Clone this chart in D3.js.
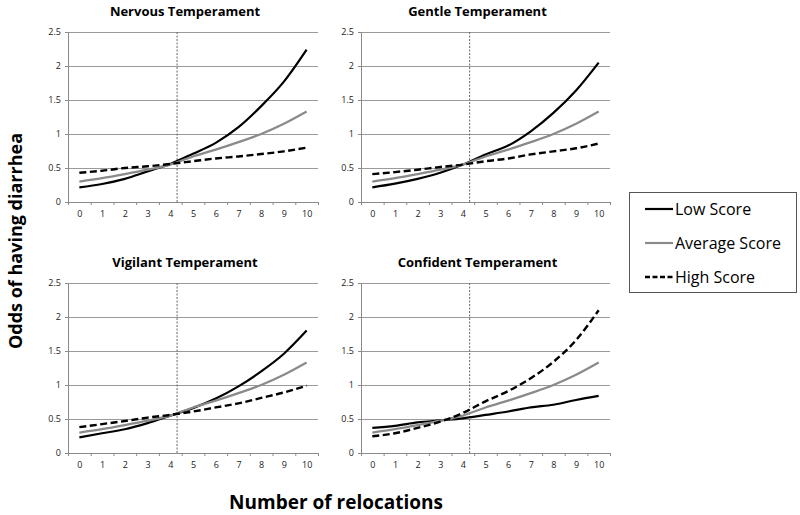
<!DOCTYPE html>
<html>
<head>
<meta charset="utf-8">
<script src="https://cdn.jsdelivr.net/npm/d3@7"></script>
<style>
  body { margin: 0; background: #fff; }
  svg { display: block; }
  text { font-family: "Open Sans", "Noto Sans", sans-serif; }
</style>
</head>
<body>
<svg id="chart" width="800" height="515"></svg>
<script>
// ---- data ----
const relocations = [0, 1, 2, 3, 4, 5, 6, 7, 8, 9, 10];
const yTicks = [0, 0.5, 1, 1.5, 2, 2.5];
const cutoff = 4.3;
const panelTitles = ["Nervous Temperament", "Gentle Temperament", "Vigilant Temperament", "Confident Temperament"];
const seriesNames = ["Low Score", "Average Score", "High Score"];

const nervousLow  = [0.216, 0.265, 0.34, 0.45, 0.56, 0.71, 0.87, 1.10, 1.41, 1.77, 2.24];
const nervousAvg  = [0.30, 0.35, 0.41, 0.475, 0.55, 0.67, 0.77, 0.88, 1.00, 1.15, 1.33];
const nervousHigh = [0.43, 0.46, 0.50, 0.525, 0.56, 0.60, 0.64, 0.67, 0.705, 0.745, 0.80];

const gentleLow  = [0.216, 0.27, 0.34, 0.43, 0.55, 0.70, 0.83, 1.04, 1.31, 1.64, 2.05];
const gentleAvg  = [0.30, 0.35, 0.41, 0.475, 0.55, 0.67, 0.77, 0.88, 1.00, 1.15, 1.33];
const gentleHigh = [0.41, 0.44, 0.475, 0.515, 0.55, 0.60, 0.64, 0.70, 0.745, 0.79, 0.86];

const vigilantLow  = [0.23, 0.29, 0.35, 0.44, 0.55, 0.66, 0.80, 0.98, 1.20, 1.46, 1.80];
const vigilantAvg  = [0.30, 0.35, 0.41, 0.475, 0.55, 0.67, 0.77, 0.88, 1.00, 1.15, 1.33];
const vigilantHigh = [0.38, 0.425, 0.47, 0.52, 0.56, 0.61, 0.67, 0.73, 0.81, 0.89, 0.99];

const confidentLow  = [0.37, 0.40, 0.45, 0.48, 0.51, 0.56, 0.61, 0.67, 0.71, 0.78, 0.84];
const confidentAvg  = [0.30, 0.35, 0.41, 0.475, 0.55, 0.67, 0.77, 0.88, 1.00, 1.15, 1.33];
const confidentHigh = [0.245, 0.29, 0.37, 0.46, 0.59, 0.76, 0.91, 1.10, 1.34, 1.66, 2.10];

const panelData = [
  [nervousLow, nervousAvg, nervousHigh],
  [gentleLow, gentleAvg, gentleHigh],
  [vigilantLow, vigilantAvg, vigilantHigh],
  [confidentLow, confidentAvg, confidentHigh]
];

// ---- layout / style ----
const panels = [
  {x0: 68, x1: 318, y0: 32, y1: 202},
  {x0: 361, x1: 610, y0: 32, y1: 202},
  {x0: 68, x1: 318, y0: 283, y1: 453},
  {x0: 361, x1: 610, y0: 283, y1: 453}
];
const seriesStyle = [
  {color: "#000", width: 2.2, dash: null},
  {color: "#8a8a8a", width: 2.2, dash: null},
  {color: "#000", width: 2.4, dash: "7,3.5"}
];

const svg = d3.select("#chart");

panels.forEach((p, i) => {
  const x = d3.scaleLinear().domain([-0.5, 10.5]).range([p.x0, p.x1]);
  const y = d3.scaleLinear().domain([0, 2.5]).range([p.y1, p.y0]);
  const g = svg.append("g");

  // gridlines
  g.selectAll("line.grid").data(yTicks.filter(t => t > 0)).enter().append("line")
    .attr("x1", p.x0).attr("x2", p.x1)
    .attr("y1", d => y(d)).attr("y2", d => y(d))
    .attr("stroke", "#9a9a9a").attr("stroke-width", 1).attr("shape-rendering", "crispEdges");

  // y axis
  const yAxis = g.append("g").attr("transform", `translate(${p.x0},0)`)
    .call(d3.axisLeft(y).tickValues(yTicks).tickSize(3).tickPadding(4).tickFormat(d3.format("")));
  yAxis.select(".domain").attr("stroke", "#8a8a8a");
  yAxis.selectAll(".tick line").attr("stroke", "#8a8a8a");
  yAxis.selectAll(".tick text").attr("font-size", 9).attr("fill", "#222")
    .style("font-family", "'Open Sans', sans-serif");

  // x axis: boundary ticks
  const xb = g.append("g").attr("transform", `translate(0,${p.y1})`)
    .call(d3.axisBottom(x).tickValues(d3.range(-0.5, 11, 1)).tickSize(3).tickFormat("").tickSizeOuter(0));
  xb.select(".domain").attr("stroke", "#8a8a8a");
  xb.selectAll(".tick line").attr("stroke", "#8a8a8a");
  // x labels
  const xl = g.append("g").attr("transform", `translate(0,${p.y1})`)
    .call(d3.axisBottom(x).tickValues(relocations).tickSize(0).tickPadding(9).tickFormat(d3.format("d")));
  xl.select(".domain").remove();
  xl.selectAll(".tick text").attr("font-size", 9).attr("fill", "#222")
    .style("font-family", "'Open Sans', sans-serif");

  // cutoff dotted line
  g.append("line")
    .attr("x1", x(cutoff)).attr("x2", x(cutoff))
    .attr("y1", y(2.5)).attr("y2", y(0))
    .attr("stroke", "#666").attr("stroke-width", 1).attr("stroke-dasharray", "2,1.5");

  // series
  const line = d3.line().x((d, j) => x(relocations[j])).y(d => y(d)).curve(d3.curveMonotoneX);
  panelData[i].forEach((vals, s) => {
    const st = seriesStyle[s];
    g.append("path").datum(vals)
      .attr("d", line)
      .attr("fill", "none")
      .attr("stroke", st.color)
      .attr("stroke-width", st.width)
      .attr("stroke-dasharray", st.dash);
  });
  // title
  g.append("text")
    .attr("x", (p.x0 + p.x1) / 2 - 8).attr("y", p.y0 - 16)
    .attr("text-anchor", "middle")
    .attr("font-size", 13).attr("font-weight", "bold").attr("fill", "#000")
    .text(panelTitles[i]);
});

// axis titles
svg.append("text")
  .attr("transform", "translate(22,241) rotate(-90)")
  .attr("text-anchor", "middle")
  .attr("font-size", 18).attr("font-weight", "bold")
  .text("Odds of having diarrhea");
svg.append("text")
  .attr("x", 336).attr("y", 509)
  .attr("text-anchor", "middle")
  .attr("font-size", 19).attr("font-weight", "bold")
  .text("Number of relocations");

// legend
const lg = svg.append("g");
lg.append("rect").attr("x", 629.5).attr("y", 192.5).attr("width", 167).attr("height", 100)
  .attr("fill", "#fff").attr("stroke", "#555").attr("stroke-width", 1);
seriesNames.forEach((name, s) => {
  const yy = 209 + s * 34;
  const st = seriesStyle[s];
  lg.append("line").attr("x1", 645).attr("x2", 673).attr("y1", yy).attr("y2", yy)
    .attr("stroke", st.color).attr("stroke-width", st.width).attr("stroke-dasharray", st.dash ? "5,2.5" : null);
  lg.append("text").attr("x", 675).attr("y", yy + 6)
    .attr("font-size", 16).attr("fill", "#000").text(name);
});
</script>
</body>
</html>
